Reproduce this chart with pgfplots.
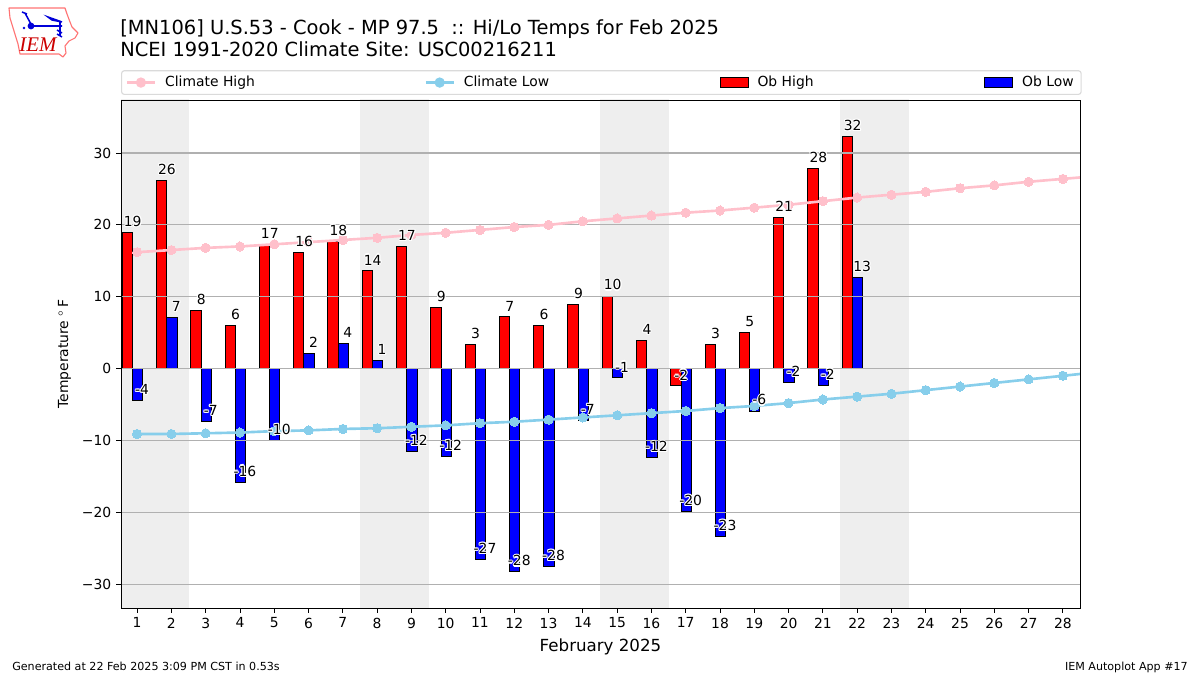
\documentclass[border=0pt]{standalone}
\usepackage{fontspec}
\usepackage{pgfplots}
\usepackage{pgfplotstable}
\pgfplotsset{compat=1.18}
\setmainfont{DejaVu Sans}
\newfontfamily\iemfont{Liberation Serif}
\definecolor{chi}{HTML}{FFC0CB}
\definecolor{clo}{HTML}{87CEEB}
\definecolor{wk}{HTML}{EEEEEE}
\definecolor{gl}{HTML}{B0B0B0}
\definecolor{lg}{HTML}{DADADA}
\newcommand\fs[1]{\fontsize{#1bp}{#1bp}\selectfont}
\newcommand\hc[3]{\rlap{\hspace{#1bp}\raisebox{#2bp}{\textcolor{white}{#3}}}}
\newcommand\halo[1]{\hc{-.8}{0}{#1}\hc{.8}{0}{#1}\hc{0}{.8}{#1}\hc{0}{-.8}{#1}\hc{-.6}{-.6}{#1}\hc{.6}{.6}{#1}\hc{.6}{-.6}{#1}\hc{-.6}{.6}{#1}#1}
\pgfplotstableread{
day high label
1 18.9 19
2 26.2 26
3 8.1 8
4 6.0 6
5 17.3 17
6 16.2 16
7 17.7 18
8 13.6 14
9 17.0 17
10 8.5 9
11 3.3 3
12 7.2 7
13 6.0 6
14 8.9 9
15 10.1 10
16 3.9 4
17 -2.4 -2
18 3.3 3
19 5.0 5
20 21.0 21
21 27.9 28
22 32.3 32
}\hightab
\pgfplotstableread{
day low label
1 -4.4 -4
2 7.1 7
3 -7.3 -7
4 -15.8 -16
5 -10.0 -10
6 2.1 2
7 3.5 4
8 1.1 1
9 -11.5 -12
10 -12.2 -12
11 -26.5 -27
12 -28.3 -28
13 -27.5 -28
14 -7.2 -7
15 -1.3 -1
16 -12.4 -12
17 -19.9 -20
18 -23.4 -23
19 -5.9 -6
20 -1.9 -2
21 -2.3 -2
22 12.7 13
}\lowtab
\pgfplotstableread{
day chi clo
1 16.2 -9.1
2 16.5 -9.1
3 16.8 -9.0
4 17.0 -8.9
5 17.3 -8.7
6 17.6 -8.6
7 17.9 -8.4
8 18.2 -8.3
9 18.6 -8.1
10 18.9 -7.9
11 19.3 -7.6
12 19.7 -7.4
13 20.0 -7.1
14 20.5 -6.8
15 20.9 -6.5
16 21.3 -6.2
17 21.7 -5.9
18 22.0 -5.5
19 22.4 -5.2
20 22.8 -4.8
21 23.3 -4.3
22 23.8 -3.9
23 24.2 -3.5
24 24.6 -3.0
25 25.1 -2.5
26 25.5 -2.0
27 26.0 -1.5
28 26.4 -1.0
29 26.8 -0.5
}\climtab
\begin{document}
\begin{tikzpicture}
\begin{scope}[x=0.72bp,y=-0.72bp]
\path[use as bounding box] (0,0) rectangle (1200,675);
% logo
\draw[draw=red!55!white,line width=0.8bp,line join=round]
 (9,8)--(65,8)--(67,14)--(70,22)--(72,27)--(78,33)--(75,38)--(69,41)--(65,46)--(66,53)--(63,57)--(59,54)--(20,54)--(18,44)--(14,31)--(10,18)--cycle;
\draw[blue!85!black,line width=1.1bp] (32,26)--(62,26) (25,13)--(32,26) (22,12)--(27,14) (48,17)--(62,22)--(52,20)--cycle (60,22)--(60,36) (57,30)--(62,33) (57,34)--(62,37);
\fill[blue!85!black] (31,26) circle (3.4) (24,28) circle (1.4);
\node[text=red!80!black,font={\iemfont\itshape\fs{15}},anchor=center] at (38,45) {IEM};
% titles
\node[anchor=base west,inner sep=0pt,font=\fs{14}] at (120,35) {[MN106] U.S.53 - Cook - MP 97.5\ \ :: Hi/Lo Temps for Feb 2025};
\node[anchor=base west,inner sep=0pt,font=\fs{14}] at (120,57) {NCEI 1991-2020 Climate Site: USC00216211};
\node[anchor=base west,inner sep=0pt,font=\fs{8}] at (12,670) {Generated at 22 Feb 2025 3:09 PM CST in 0.53s};
\node[anchor=base east,inner sep=0pt,font=\fs{8}] at (1188,670) {IEM Autoplot App \#17};
\end{scope}
\begin{axis}[
  at={(87.12bp,-437.76bp)},anchor=south west,
  scale only axis,width=690.48bp,height=365.76bp,
  xmin=0.53,xmax=28.5,ymin=-33.32,ymax=37.38,
  axis on top,
  xtick={1,...,28},
  ytick={-30,-20,-10,0,10,20,30},
  yticklabels={−30,−20,−10,0,10,20,30},
  tick pos=left,
  tick align=outside,
  major tick length=3.5bp,
  tick style={black,line width=0.6bp},
  axis line style={black,line width=0.7bp},
  ticklabel style={font=\fs{10}},
  /pgf/number format/assume math mode=true,
  xlabel={February 2025},
  xlabel style={font=\fs{12},at={(axis description cs:0.5,0)},anchor=base,yshift=-31.5bp},
  ylabel={Temperature\ $^\circ$\,F},
  ylabel style={font=\fs{10},at={(axis description cs:0,0.5)},anchor=base,yshift=38bp},
  legend columns=4,
  legend cell align=left,
  legend style={at={(0,1)},anchor=south west,yshift=3.6bp,draw=lg,line width=0.8bp,rounded corners=2bp,
    inner xsep=3bp,inner ysep=2bp,font=\fs{10},column sep=0pt,
    nodes={inner xsep=0pt,inner ysep=2bp}},
]
% legend (order as in the reference)
\addlegendimage{legend image code/.code={\draw[chi,line width=1.9bp,sharp corners] (0bp,0bp)--(20bp,0bp);\fill[chi] (10bp,0bp) circle (3.3bp);}}
\addlegendentry{\makebox[193.2bp][l]{\hspace*{6.5bp}Climate High}}
\addlegendimage{legend image code/.code={\draw[clo,line width=1.9bp,sharp corners] (0bp,0bp)--(20bp,0bp);\fill[clo] (10bp,0bp) circle (3.3bp);}}
\addlegendentry{\makebox[190.8bp][l]{\hspace*{6.5bp}Climate Low}}
\addlegendimage{legend image code/.code={\draw[black,fill=red,line width=0.6bp,sharp corners] (0bp,-3.6bp) rectangle (20bp,3.6bp);}}
\addlegendentry{\makebox[169.9bp][l]{\hspace*{6.5bp}Ob High}}
\addlegendimage{legend image code/.code={\draw[black,fill=blue,line width=0.6bp,sharp corners] (0bp,-3.6bp) rectangle (20bp,3.6bp);}}
\addlegendentry{\makebox[46bp][l]{\hspace*{6.5bp}Ob Low}}
% weekend bands
\addplot[fill=wk,draw=none,forget plot] coordinates {(0.5,-40)(2.5,-40)(2.5,40)(0.5,40)} --cycle;
\addplot[fill=wk,draw=none,forget plot] coordinates {(7.5,-40)(9.5,-40)(9.5,40)(7.5,40)} --cycle;
\addplot[fill=wk,draw=none,forget plot] coordinates {(14.5,-40)(16.5,-40)(16.5,40)(14.5,40)} --cycle;
\addplot[fill=wk,draw=none,forget plot] coordinates {(21.5,-40)(23.5,-40)(23.5,40)(21.5,40)} --cycle;
% bars
\addplot[ybar,bar width=0.3,bar shift=-0.285,fill=red,draw=black,line width=0.7bp,forget plot] table[x=day,y=high] {\hightab};
\addplot[ybar,bar width=0.3,bar shift=0.015,fill=blue,draw=black,line width=0.7bp,forget plot] table[x=day,y=low] {\lowtab};
% grid lines over the bars
\addplot[gl,line width=0.8bp,forget plot] coordinates {(0,-30)(30,-30)};
\addplot[gl,line width=0.8bp,forget plot] coordinates {(0,-20)(30,-20)};
\addplot[gl,line width=0.8bp,forget plot] coordinates {(0,-10)(30,-10)};
\addplot[gl,line width=0.8bp,forget plot] coordinates {(0,0)(30,0)};
\addplot[gl,line width=0.8bp,forget plot] coordinates {(0,10)(30,10)};
\addplot[gl,line width=0.8bp,forget plot] coordinates {(0,20)(30,20)};
\addplot[gl,line width=0.8bp,forget plot] coordinates {(0,30)(30,30)};
% climate lines
\addplot[chi,line width=1.9bp,mark=*,mark size=3.3bp,mark options={fill=chi,draw=chi,line width=0pt},forget plot] table[x=day,y=chi] {\climtab};
\addplot[clo,line width=1.9bp,mark=*,mark size=3.3bp,mark options={fill=clo,draw=clo,line width=0pt},forget plot] table[x=day,y=clo] {\climtab};
% value labels
\addplot[ybar,bar width=0.3,bar shift=-0.3,draw=none,fill=none,forget plot,
  point meta=explicit symbolic,
  nodes near coords={\halo{\pgfplotspointmeta}},
  nodes near coords align={anchor=south},
  every node near coord/.style={font=\fs{10},text=black,xshift=-3.2bp,yshift=2.7bp,inner ysep=0.5bp,inner xsep=0pt}]
  table[x=day,y=high,meta=label] {\hightab};
\addplot[ybar,bar width=0.3,bar shift=0,draw=none,fill=none,forget plot,
  point meta=explicit symbolic,
  nodes near coords={\halo{\pgfplotspointmeta}},
  nodes near coords align={anchor=south},
  every node near coord/.style={font=\fs{10},text=black,xshift=3.6bp,yshift=2.7bp,inner ysep=0.5bp,inner xsep=0pt}]
  table[x=day,y=low,meta=label] {\lowtab};
\end{axis}
\end{tikzpicture}
\end{document}
